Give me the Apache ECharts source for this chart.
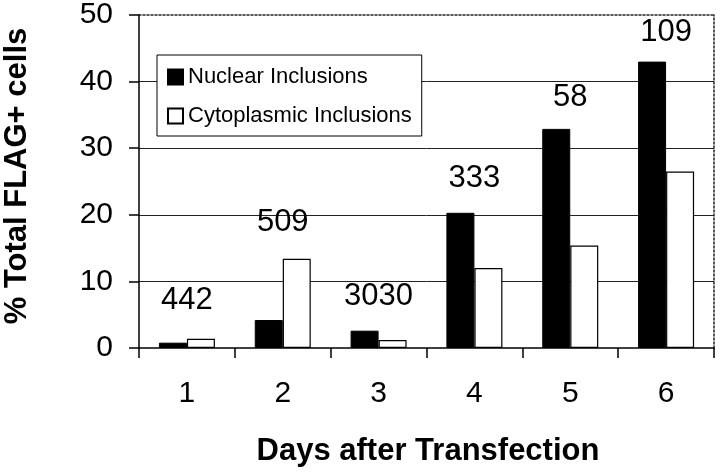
<!DOCTYPE html>
<html>
<head>
<meta charset="utf-8">
<script src="https://cdn.jsdelivr.net/npm/echarts@6/dist/echarts.min.js"></script>
<style>
  html, body { margin: 0; padding: 0; background: #fff; }
  #chart { width: 720px; height: 472px; }
</style>
</head>
<body>
<div id="chart"></div>
<script>
// days after transfection
const days = ['1', '2', '3', '4', '5', '6'];
// % of FLAG+ cells
const nuclear = [0.8, 4.2, 2.6, 20.3, 32.9, 43.0];
const cytoplasmic = [1.4, 13.4, 1.2, 12.0, 15.4, 26.5];
// cell counts written above each day, and the height they sit at
const cellCounts = [442, 509, 3030, 333, 58, 109];
const countLabelY = [7.2, 18.9, 7.8, 25.4, 37.6, 47.4];

const font = 'Liberation Sans, Arial, sans-serif';

const chart = echarts.init(document.getElementById('chart'));

chart.setOption({
  animation: false,
  backgroundColor: '#fff',
  grid: { left: 139, right: 6, top: 14, bottom: 124 },
  legend: {
    orient: 'vertical',
    left: 157,
    top: 55,
    padding: [11, 10, 9, 10],
    itemWidth: 15,
    itemHeight: 15,
    itemGap: 17,
    backgroundColor: '#fff',
    borderColor: '#000',
    borderWidth: 1,
    borderRadius: 0,
    icon: 'rect',
    textStyle: { fontFamily: font, fontSize: 22, color: '#000' },
    data: ['Nuclear Inclusions', 'Cytoplasmic Inclusions']
  },
  xAxis: [{
    type: 'category',
    data: days,
    axisLine: { lineStyle: { color: '#000', width: 1.5 } },
    axisTick: { show: true, length: 10, lineStyle: { color: '#000', width: 1.5 } },
    axisLabel: { margin: 31, fontFamily: font, fontSize: 30, color: '#000' }
  }, {
    type: 'category',
    position: 'top',
    data: days,
    axisLine: { show: true, onZero: false, lineStyle: { color: '#222', width: 1.5, type: [2, 2] } },
    axisTick: { show: false },
    axisLabel: { show: false }
  }],
  yAxis: [{
    type: 'value',
    min: 0,
    max: 50,
    interval: 10,
    axisLine: { show: true, lineStyle: { color: '#000', width: 1.5 } },
    axisTick: { show: true, length: 10, lineStyle: { color: '#000', width: 1.5 } },
    axisLabel: { margin: 26, fontFamily: font, fontSize: 30, color: '#000' },
    splitLine: {
      show: true, showMinLine: false, showMaxLine: false,
      lineStyle: { color: '#222', width: 1 }
    }
  }, {
    type: 'value',
    position: 'right',
    min: 0,
    max: 50,
    interval: 10,
    axisLine: { show: true, onZero: false, lineStyle: { color: '#222', width: 1.5, type: [2, 2] } },
    axisTick: { show: false },
    axisLabel: { show: false },
    splitLine: { show: false }
  }],
  graphic: [{
    type: 'text',
    x: 428,
    y: 451,
    style: {
      text: 'Days after Transfection',
      fontFamily: font, fontSize: 31, fontWeight: 'bold',
      fill: '#000', align: 'center', verticalAlign: 'middle'
    }
  }, {
    type: 'text',
    x: 17,
    y: 176,
    rotation: Math.PI / 2,
    style: {
      text: '% Total FLAG+ cells',
      fontFamily: font, fontSize: 31, fontWeight: 'bold',
      fill: '#000', align: 'center', verticalAlign: 'middle'
    }
  }],
  series: [{
    name: 'Nuclear Inclusions',
    type: 'bar',
    data: nuclear,
    barWidth: 28,
    barGap: '0%',
    itemStyle: { color: '#000', borderColor: '#000', borderWidth: 1 }
  }, {
    name: 'Cytoplasmic Inclusions',
    type: 'bar',
    data: cytoplasmic,
    barWidth: 28,
    itemStyle: { color: '#fff', borderColor: '#000', borderWidth: 1.2 }
  }, {
    name: 'counts',
    type: 'scatter',
    symbolSize: 0,
    data: countLabelY,
    silent: true,
    itemStyle: { opacity: 1, color: '#000' },
    label: {
      show: true,
      position: 'inside',
      fontFamily: font,
      fontSize: 31,
      color: '#000',
      opacity: 1,
      formatter: p => String(cellCounts[p.dataIndex])
    }
  }]
});
</script>
</body>
</html>
